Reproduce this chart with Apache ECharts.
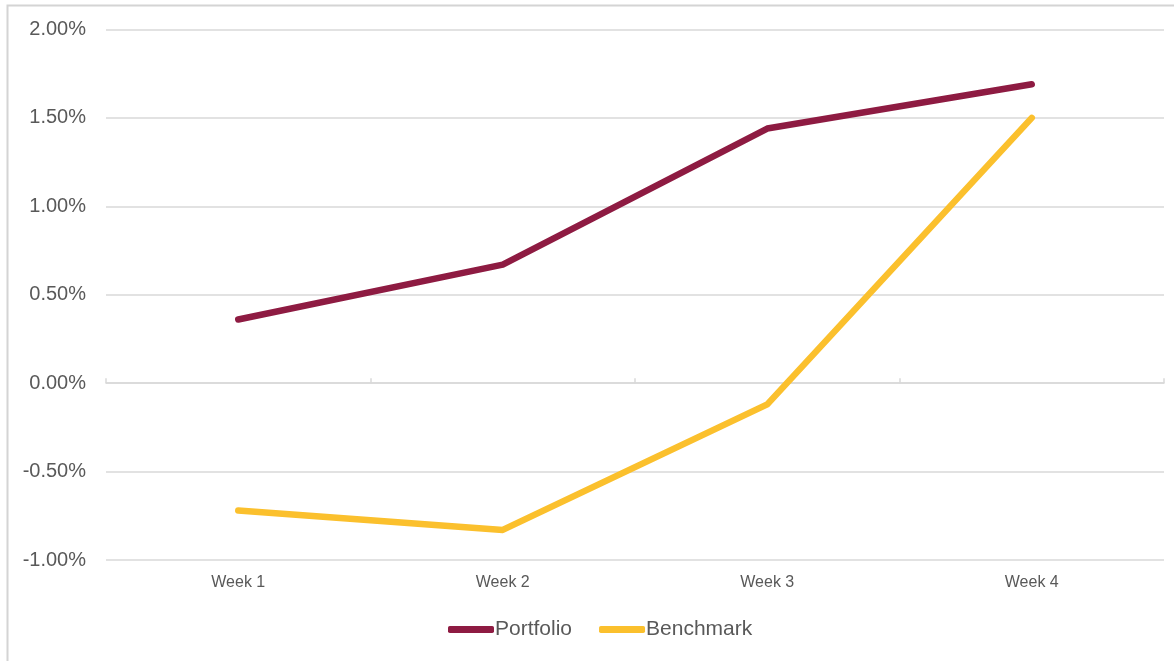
<!DOCTYPE html>
<html>
<head>
<meta charset="utf-8">
<title>Portfolio vs Benchmark</title>
<script src="https://cdn.jsdelivr.net/npm/echarts@6/dist/echarts.min.js"></script>
<style>
  html, body { margin: 0; padding: 0; background: #ffffff; }
  #chart { width: 1174px; height: 661px; }
</style>
</head>
<body>
<div id="chart"></div>
<script>
// Weekly returns, in percent
const weeks = ['Week 1', 'Week 2', 'Week 3', 'Week 4'];
const portfolio = [0.36, 0.67, 1.44, 1.69];
const benchmark = [-0.72, -0.83, -0.12, 1.50];
const seriesNames = ['Portfolio', 'Benchmark'];

const labelColor = '#595959';
const gridColor = '#d9d9d9';
const font = '"Liberation Sans", Arial, sans-serif';

const chart = echarts.init(document.getElementById('chart'), null, { renderer: 'canvas' });

chart.setOption({
  backgroundColor: '#ffffff',
  animation: false,
  graphic: [{
    type: 'rect',
    shape: { x: 7.5, y: 5.5, width: 1300, height: 800 },
    style: { fill: 'none', stroke: '#d4d4d4', lineWidth: 2 },
    silent: true,
    z: -10
  }],
  grid: { left: 106, right: 10, top: 29.5, bottom: 101, containLabel: false },
  legend: {
    left: 448,
    top: 619,
    padding: 0,
    itemWidth: 46,
    itemHeight: 7,
    itemGap: 27,
    icon: 'roundRect',
    textStyle: { color: labelColor, fontSize: 21, fontFamily: font, padding: [0, 0, 0, -4] },
    data: seriesNames
  },
  xAxis: [{
    type: 'category',
    data: weeks,
    boundaryGap: true,
    position: 'bottom',
    axisLine: { show: false, onZero: false },
    axisTick: { show: false },
    axisLabel: { color: labelColor, fontSize: 16, fontFamily: font, margin: 15 }
  }, {
    type: 'category',
    data: weeks,
    boundaryGap: true,
    axisLine: { show: true, onZero: true, lineStyle: { color: gridColor, width: 1.5 } },
    axisTick: { show: true, length: 5, lineStyle: { color: gridColor, width: 1.5 } },
    axisLabel: { show: false }
  }],
  yAxis: {
    type: 'value',
    min: -1,
    max: 2,
    interval: 0.5,
    axisLine: { show: false },
    axisTick: { show: false },
    splitLine: { lineStyle: { color: gridColor, width: 1.5 } },
    axisLabel: {
      color: labelColor,
      fontSize: 20,
      fontFamily: font,
      margin: 20,
      formatter: v => v.toFixed(2) + '%'
    }
  },
  series: [{
    name: seriesNames[0],
    type: 'line',
    data: portfolio,
    symbol: 'none',
    itemStyle: { color: '#8e1b42' },
    lineStyle: { color: '#8e1b42', width: 6.5, cap: 'round', join: 'round' },
    z: 3
  }, {
    name: seriesNames[1],
    type: 'line',
    data: benchmark,
    symbol: 'none',
    itemStyle: { color: '#fbc02d' },
    lineStyle: { color: '#fbc02d', width: 6.5, cap: 'round', join: 'round' },
    z: 2
  }]
});
</script>
</body>
</html>
